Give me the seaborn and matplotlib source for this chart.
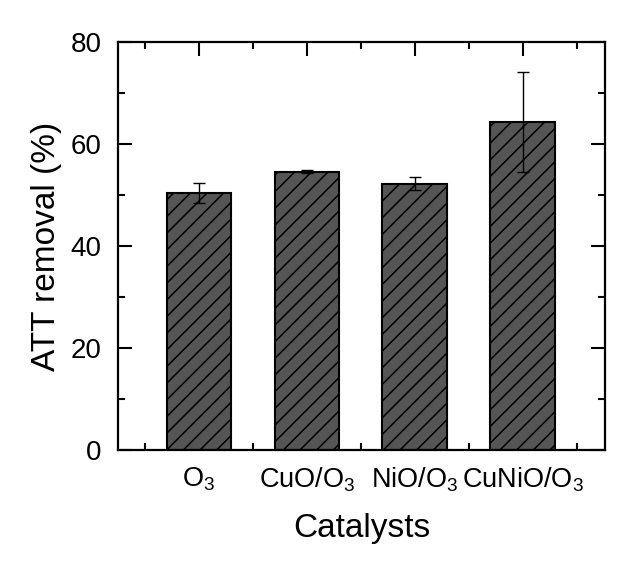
# ATT removal by catalyst - bar chart with error bars

import pandas as pd
import numpy as np
import matplotlib
matplotlib.use("Agg")
import matplotlib.pyplot as plt
import seaborn as sns
from matplotlib.ticker import MultipleLocator

# -----------------------------
# data
# -----------------------------
catalysts = ["O$_3$", "CuO/O$_3$", "NiO/O$_3$", "CuNiO/O$_3$"]
removal = [50.4, 54.6, 52.2, 64.4]
removal_err = [2.0, 0.3, 1.3, 9.8]

df = pd.DataFrame({"Catalysts": catalysts, "removal": removal, "err": removal_err})

sns.set_style("ticks")
plt.rcParams["font.family"] = ["Liberation Sans", "DejaVu Sans"]
plt.rcParams["mathtext.fontset"] = "custom"
plt.rcParams["mathtext.rm"] = "Liberation Sans"
plt.rcParams["hatch.linewidth"] = 1.1
plt.rcParams["hatch.color"] = "black"
plt.rcParams["text.color"] = "black"
plt.rcParams["axes.labelcolor"] = "black"
plt.rcParams["xtick.color"] = "black"
plt.rcParams["ytick.color"] = "black"
plt.rcParams["axes.edgecolor"] = "black"

fig, ax = plt.subplots(figsize=(6.38, 5.67), dpi=100)
fig.subplots_adjust(left=0.185, right=0.948, top=0.926, bottom=0.206)

sns.barplot(data=df, x="Catalysts", y="removal", color="#555555",
            width=0.6, saturation=1, edgecolor="black", linewidth=1.5,
            hatch="//", errorbar=None, ax=ax)

# error bars on top of the seaborn bars
ax.errorbar(np.arange(len(catalysts)), df["removal"], yerr=df["err"],
            fmt="none", ecolor="black", elinewidth=1, capsize=4, capthick=1)

ax.set_xlim(-0.75, 3.76)
ax.set_ylim(0, 80)
ax.yaxis.set_major_locator(MultipleLocator(20))
ax.yaxis.set_minor_locator(MultipleLocator(10))
ax.xaxis.set_minor_locator(MultipleLocator(0.5))

for side in ["top", "right", "left", "bottom"]:
    ax.spines[side].set_visible(True)
    ax.spines[side].set_linewidth(1.6)

ax.tick_params(which="both", direction="in", top=True, right=True, width=1.5)
ax.tick_params(which="major", length=10)
ax.tick_params(axis="x", which="major", labelsize=19.5, pad=11)
ax.tick_params(axis="y", which="major", labelsize=20, pad=12)
ax.tick_params(which="minor", length=5)

ax.set_xlabel("Catalysts", fontsize=24, labelpad=14)
ax.set_ylabel("ATT removal (%)", fontsize=24, labelpad=6)

plt.savefig("out.png", dpi=100)
